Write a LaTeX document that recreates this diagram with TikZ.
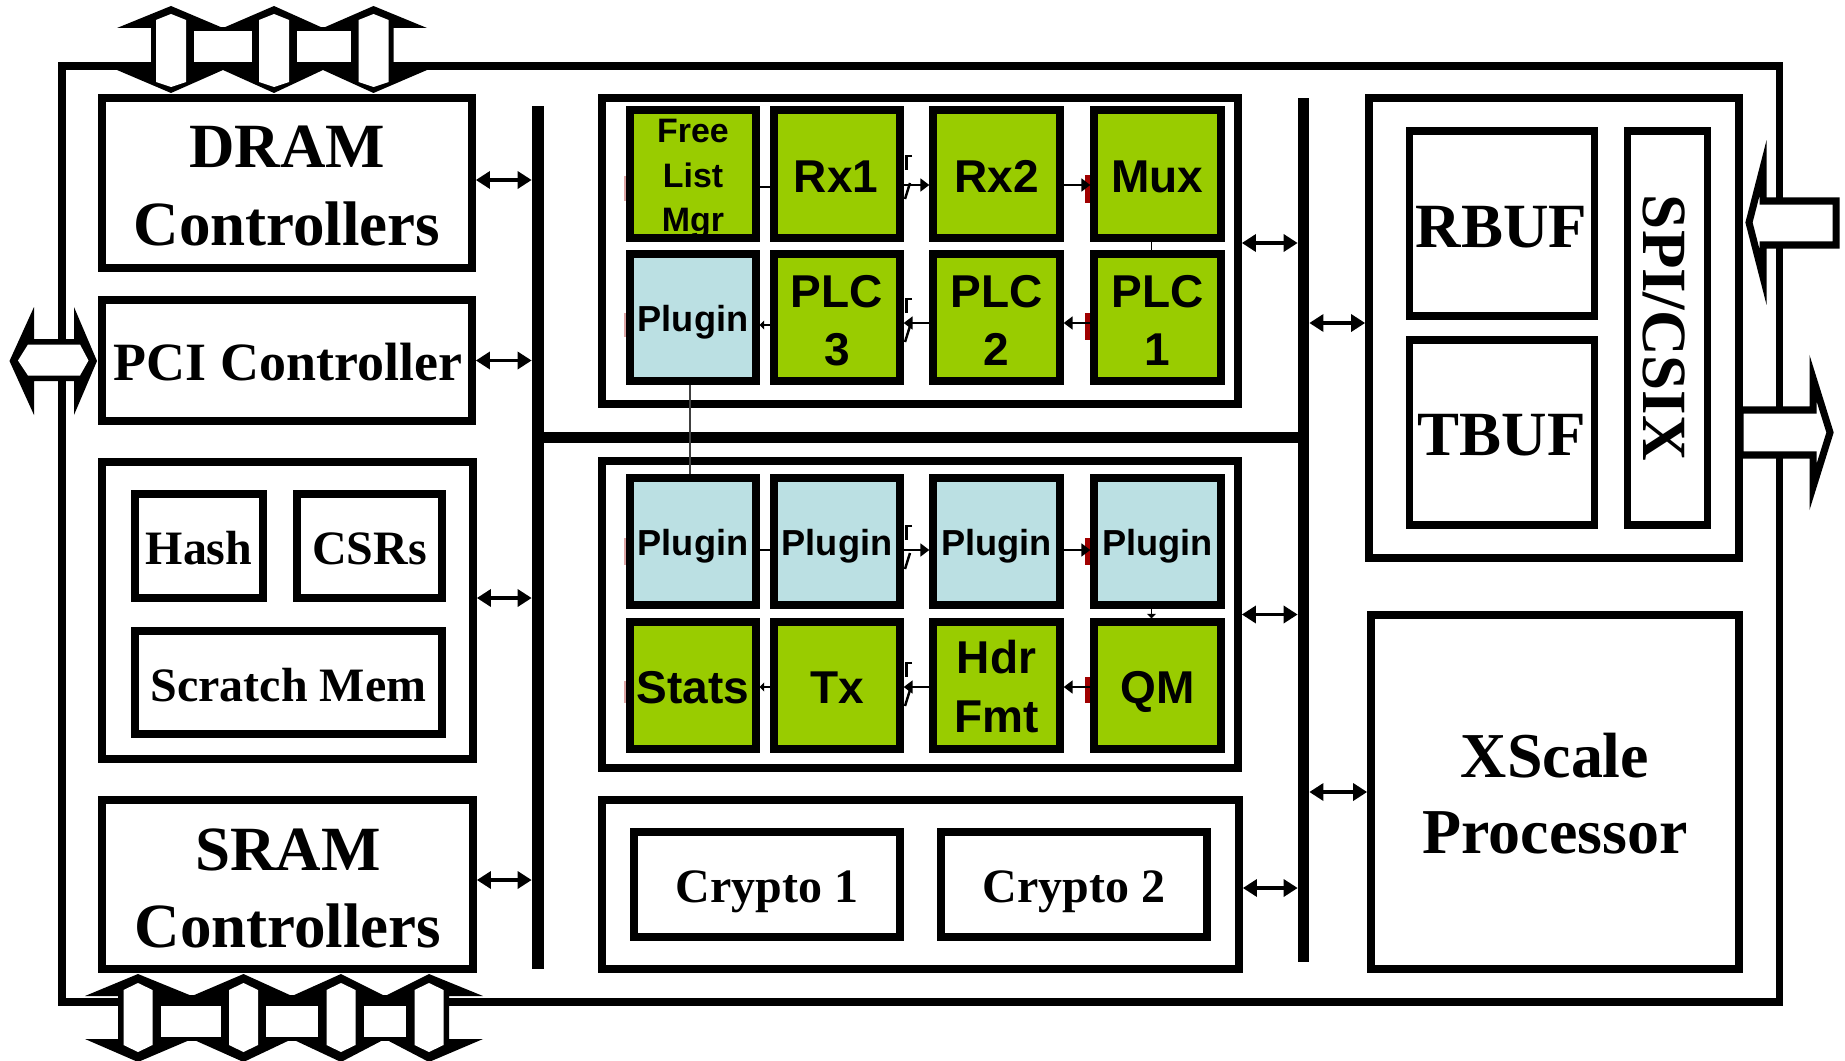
\documentclass[tikz,border=0pt]{standalone}
\usepackage{fontspec}
\setmainfont{Liberation Serif}
\newfontfamily\arialfont{Liberation Sans}
\usetikzlibrary{arrows.meta,calc}

\definecolor{cellgreen}{HTML}{99CC00}
\definecolor{cellblue}{HTML}{BBE0E3}
\definecolor{markred}{HTML}{A00000}

% rectangle node from two corner points (stroke centres, pixel units)
\newcommand\boxat[6][]{%
  \node[#1, minimum width={(#5-#3)*0.02cm}, minimum height={(#6-#4)*0.02cm}] (#2) at ({(#3+#5)/2},{(#4+#6)/2}) {};}

% solid silhouette of a vertical double arrow:
% centre x, head left, head right, top tip, top base, bottom base, bottom tip
\newcommand\busarrow[7]{%
  \fill (#1,#4) -- (#3,#5) -- ({#1+20},#5) -- ({#1+20},#6) -- (#3,#6) -- (#1,#7)
    -- (#2,#6) -- ({#1-20},#6) -- ({#1-20},#5) -- (#2,#5) -- cycle;}
% white bore of such an arrow: centre x, half width, top point, top shoulder, bottom shoulder, bottom point
\newcommand\busbore[6]{%
  \fill[white] ({#1-#2},#4) -- (#1,#3) -- ({#1+#2},#4) -- ({#1+#2},#5) -- (#1,#6) -- ({#1-#2},#5) -- cycle;}

\tikzset{
  outerbox/.style={draw, line width=4pt, inner sep=0pt},
  block/.style={draw, fill=white, line width=4.4pt, inner sep=0pt},
  innerbox/.style={draw, fill=white, line width=4pt, inner sep=0pt},
  cellg/.style={draw, fill=cellgreen, line width=4.25pt, inner sep=0pt},
  cellb/.style={draw, fill=cellblue, line width=4.25pt, inner sep=0pt},
  busbar/.style={fill=black, draw=none, inner sep=0pt},
  hollowarrow/.style={draw, fill=white, line width=4pt, line join=miter},
  biarrow/.style={line width=1.9pt, {Triangle[length=8pt,width=9.7pt]}-{Triangle[length=8pt,width=9.7pt]}},
  flow/.style={line width=0.75pt, -{Triangle[length=5pt,width=7.4pt]}},
  flowsmall/.style={line width=0.75pt, -{Triangle[length=2.5pt,width=5pt]}},
  plainlink/.style={line width=0.75pt},
  graylink/.style={line width=0.85pt, draw=black!75},
  stub/.style={line width=1.4pt},
  t63/.style={inner sep=0pt, anchor=base, font=\fontsize{35.85pt}{40pt}\selectfont\bfseries},
  t64/.style={inner sep=0pt, anchor=base, font=\fontsize{36.4pt}{40pt}\selectfont\bfseries},
  t54/.style={inner sep=0pt, anchor=base, font=\fontsize{30.7pt}{34pt}\selectfont\bfseries},
  t48/.style={inner sep=0pt, anchor=base, font=\fontsize{27.3pt}{30pt}\selectfont\bfseries},
  a46/.style={inner sep=0pt, anchor=base, font=\arialfont\fontsize{26.2pt}{30pt}\selectfont\bfseries},
  a36/.style={inner sep=0pt, anchor=base, font=\arialfont\fontsize{20.6pt}{24pt}\selectfont\bfseries},
  a34/.style={inner sep=0pt, anchor=base, font=\arialfont\fontsize{19.3pt}{22pt}\selectfont\bfseries},
}

\begin{document}
\begin{tikzpicture}[x=0.02cm, y=-0.02cm]
\useasboundingbox (0,0) rectangle (1845,1061);
\fill[white] (0,0) rectangle (1845,1061);

% chip outline
\boxat[outerbox]{chip}{62}{66}{1779}{1002}

% DRAM channels (top)
\fill (171,27) rectangle (274,70);
\fill (274,27) rectangle (373.5,70);
\busarrow{171}{117}{223}{6}{28}{70}{93}
\busarrow{274}{223}{323}{6}{28}{70}{93}
\busarrow{373.5}{323}{427}{6}{28}{70}{93}
\fill[white] (194,31) rectangle (252,62);
\fill[white] (297,31) rectangle (351,62);
\busbore{171}{15}{14}{20}{82}{87}
\busbore{274}{15}{14}{20}{82}{87}
\busbore{373.5}{15}{14}{20}{82}{87}

% SRAM channels (bottom)
\fill (138,995) rectangle (243.5,1041);
\fill (243.5,995) rectangle (341,1041);
\fill (341,995) rectangle (429,1041);
\busarrow{138}{85}{192}{974}{996}{1039}{1062}
\busarrow{243.5}{192}{292}{974}{996}{1039}{1062}
\busarrow{341}{292}{385}{974}{996}{1039}{1062}
\busarrow{429}{385}{483}{974}{996}{1039}{1062}
\fill[white] (161,1006) rectangle (221,1037);
\fill[white] (266,1006) rectangle (318,1037);
\fill[white] (364,1006) rectangle (406,1037);
\busbore{138}{14.5}{983}{990}{1045}{1052}
\busbore{243.5}{14.5}{983}{990}{1045}{1052}
\busbore{341}{14.5}{983}{990}{1045}{1052}
\busbore{429}{14.5}{983}{990}{1045}{1052}

% PCI port
\fill (9.5,361) -- (34,307) -- (34,339) -- (74,339) -- (74,307) -- (97,361)
  -- (74,415) -- (74,381) -- (34,381) -- (34,415) -- cycle;
\fill[white] (18,360.5) -- (28,344.5) -- (80,344.5) -- (88.5,360.5) -- (80,375.5) -- (28,375.5) -- cycle;

% left column units
\boxat[block]{dram}{102}{98}{472}{268}
\boxat[block]{pci}{102}{300}{472}{421}
\boxat[block]{mem}{102}{462}{473}{759}
\boxat[innerbox]{hash}{135}{494}{263}{598}
\boxat[innerbox]{csrs}{297}{494}{442}{598}
\boxat[innerbox]{scratch}{135}{631}{442}{734}
\boxat[block]{sram}{102}{800}{473}{969}

\node[t63] (dramA) at (287,167) {DRAM};
\node[t63] (dramB) at (287,245) {Controllers};
\node[t54] (pciT) at (288,380) {PCI Controller};
\node[t48] (hashT) at (199,564) {Hash};
\node[t48] (csrsT) at (369.5,564) {CSRs};
\node[t48] (scratchT) at (288.5,701) {Scratch Mem};
\node[t63] (sramA) at (288,870) {SRAM};
\node[t63] (sramB) at (288,947) {Controllers};

% internal buses
\boxat[busbar]{lbus}{532}{106}{544}{969}
\boxat[busbar]{hbus}{538}{431.5}{1304}{442.5}
\boxat[busbar]{rbus}{1298}{98}{1309}{962}

% microengine clusters
\boxat[block]{upper}{602}{98}{1238}{404}
\boxat[block]{lower}{602}{461}{1238}{768}

% faint port marks on the left engines
\fill[markred, opacity=.35] (624,176) rectangle (627,201);
\fill[markred, opacity=.35] (624,313) rectangle (627,337);
\fill[markred, opacity=.35] (624,538) rectangle (627,565);
\fill[markred, opacity=.35] (624,681) rectangle (627,703);

% upper cluster engines
\boxat[cellg]{flm}{630}{110}{756}{238}
\node[a34] (flmA) at (693,142) {Free};
\node[a34] (flmB) at (693,187) {List};
\node[a34] (flmC) at (693,231.5) {Mgr};
\draw[line width=4.25pt] (630,110) rectangle (756,238);
\boxat[cellg]{rx1}{774}{110}{900}{238}
\boxat[cellg]{rx2}{933}{110}{1060}{238}
\boxat[cellg]{mux}{1094}{110}{1221}{238}
\boxat[cellb]{tplug}{630}{254}{756}{381}
\boxat[cellg]{plc3}{774}{254}{900}{381}
\boxat[cellg]{plc2}{933}{254}{1060}{381}
\boxat[cellg]{plc1}{1094}{254}{1221}{381}

\node[a46] (rx1T) at (836,192) {Rx1};
\node[a46] (rx2T) at (996.5,192) {Rx2};
\node[a46] (muxT) at (1157.5,192) {Mux};
\node[a36] (tplugT) at (693,331) {Plugin};
\node[a46] (plc3A) at (837,307) {PLC};
\node[a46] (plc3B) at (837,365) {3};
\node[a46] (plc2A) at (996.5,307) {PLC};
\node[a46] (plc2B) at (996.5,365) {2};
\node[a46] (plc1A) at (1157.5,307) {PLC};
\node[a46] (plc1B) at (1157.5,365) {1};

% lower cluster engines
\boxat[cellb]{bplugA}{630}{478}{756}{605}
\boxat[cellb]{bplugB}{774}{478}{900}{605}
\boxat[cellb]{bplugC}{933}{478}{1060}{605}
\boxat[cellb]{bplugD}{1094}{478}{1221}{605}
\boxat[cellg]{stats}{630}{622}{756}{749}
\boxat[cellg]{tx}{774}{622}{900}{749}
\boxat[cellg]{hdr}{933}{622}{1060}{749}
\boxat[cellg]{qm}{1094}{622}{1221}{749}

\node[a36] (bplugAT) at (693,555) {Plugin};
\node[a36] (bplugBT) at (837,555) {Plugin};
\node[a36] (bplugCT) at (996.5,555) {Plugin};
\node[a36] (bplugDT) at (1157.5,555) {Plugin};
\node[a46] (statsT) at (693,703) {Stats};
\node[a46] (txT) at (837,703) {Tx};
\node[a46] (hdrA) at (996.5,673) {Hdr};
\node[a46] (hdrB) at (996.5,732) {Fmt};
\node[a46] (qmT) at (1157.5,703) {QM};

% link between the two plugin engines
\draw[graylink] ($(tplug.south)+(-3,0)$) -- ($(bplugA.north)+(-3,0)$);

% port marks on the right engines
\fill[markred] (1085,175) rectangle (1089.5,203);
\fill[markred] (1085,313) rectangle (1089.5,340);
\fill[markred] (1085,538) rectangle (1089.5,565);
\fill[markred] (1085,677) rectangle (1089.5,703);

% packet flow, upper cluster
\coordinate (k1) at ($(flm.east)+(0,13)$);
\draw[plainlink] (k1) -- (k1 -| rx1.west);
\coordinate (k2) at ($(rx1.east)+(0,11)$);
\draw[flow] (k2) -- (k2 -| rx2.west);
\coordinate (k3) at ($(rx2.east)+(0,11)$);
\draw[flow] (k3) -- (k3 -| mux.west);
\draw[plainlink] ($(mux.south)+(-6,0)$) -- ($(plc1.north)+(-6,0)$);
\coordinate (k5) at ($(plc1.west)+(0,5.5)$);
\draw[flow] (k5) -- (k5 -| plc2.east);
\coordinate (k6) at ($(plc2.west)+(0,5.5)$);
\draw[flow] (k6) -- (k6 -| plc3.east);
\coordinate (k7) at ($(plc3.west)+(0,7.5)$);
\draw[flowsmall] (k7) -- (k7 -| tplug.east);

% packet flow, lower cluster
\coordinate (k9) at ($(bplugA.east)+(0,8.5)$);
\draw[plainlink] (k9) -- (k9 -| bplugB.west);
\coordinate (k10) at ($(bplugB.east)+(0,8.5)$);
\draw[flow] (k10) -- (k10 -| bplugC.west);
\coordinate (k11) at ($(bplugC.east)+(0,8.5)$);
\draw[flow] (k11) -- (k11 -| bplugD.west);
\draw[flowsmall] ($(bplugD.south)+(-6,0)$) -- ($(qm.north)+(-6,0)$);
\coordinate (k13) at ($(qm.west)+(0,1.5)$);
\draw[flow] (k13) -- (k13 -| hdr.east);
\coordinate (k14) at ($(hdr.west)+(0,1.5)$);
\draw[flow] (k14) -- (k14 -| tx.east);
\coordinate (k15) at ($(tx.west)+(0,1.5)$);
\draw[flowsmall] (k15) -- (k15 -| stats.east);

% connector stubs on the second column
\foreach \yy in {180,323,550,687}{
  \draw[stub] (912,\yy-24) -- (906.5,\yy-24) -- (906.5,\yy-10);
  \draw[stub] (905,\yy+19) -- (910,\yy+3);
}

% crypto units
\boxat[block]{cryptobox}{602}{800}{1239}{969}
\boxat[block]{cry1}{634}{832}{900}{937}
\boxat[block]{cry2}{941}{832}{1207}{937}
\node[t48] (cry1T) at (767,902) {Crypto 1};
\node[t48] (cry2T) at (1074,902) {Crypto 2};

% media interface and control processor
\boxat[block]{io}{1369}{98}{1739}{558}
\boxat[innerbox]{rbuf}{1409}{131}{1594}{316}
\boxat[innerbox]{tbuf}{1409}{340}{1594}{525}
\boxat[innerbox]{spi}{1627}{131}{1707}{525}
\node[t63] (rbufT) at (1501.5,247) {RBUF};
\node[t63] (tbufT) at (1501.5,455) {TBUF};
\node[t63, rotate=-90] (spiT) at (1643,328) {SPI/CSIX};
\boxat[block]{xscale}{1371}{615}{1739}{969}
\node[t64] (xsA) at (1555,777) {XScale};
\node[t64] (xsB) at (1555,853) {Processor};

% media ports
\draw[hollowarrow] (1749,222.5) -- (1763,168) -- (1763,201) -- (1836,201)
  -- (1836,245) -- (1763,245) -- (1763,277) -- cycle;
\draw[hollowarrow] (1740,410) -- (1813,410) -- (1813,378) -- (1830,432.5)
  -- (1813,487) -- (1813,455) -- (1740,455) -- cycle;

% bus attachments
\coordinate (a1) at ($(dram.east)+(0,-3)$);
\draw[biarrow] (a1) -- (a1 -| lbus.west);
\coordinate (a2) at (pci.east);
\draw[biarrow] (a2) -- (a2 -| lbus.west);
\coordinate (a3) at ($(mem.east)+(0,-12.5)$);
\draw[biarrow] (a3) -- (a3 -| lbus.west);
\coordinate (a4) at ($(sram.east)+(0,-4.5)$);
\draw[biarrow] (a4) -- (a4 -| lbus.west);
\coordinate (a5) at ($(upper.east)+(0,-8)$);
\draw[biarrow] (a5) -- (a5 -| rbus.west);
\coordinate (a6) at ($(io.west)+(0,-5)$);
\draw[biarrow] (a6 -| rbus.east) -- (a6);
\coordinate (a7) at (lower.east);
\draw[biarrow] (a7) -- (a7 -| rbus.west);
\coordinate (a8) at (xscale.west);
\draw[biarrow] (a8 -| rbus.east) -- (a8);
\coordinate (a9) at ($(cryptobox.east)+(0,3.5)$);
\draw[biarrow] (a9) -- (a9 -| rbus.west);
\end{tikzpicture}
\end{document}
